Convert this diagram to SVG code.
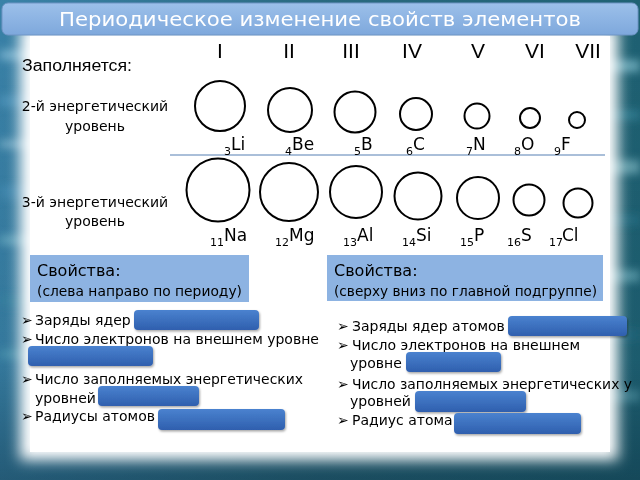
<svg xmlns="http://www.w3.org/2000/svg" width="640" height="480" viewBox="0 0 640 480">
<defs>
<linearGradient id="bg" x1="0" y1="0" x2="1" y2="0">
<stop offset="0" stop-color="#3a82a8"/>
<stop offset="0.5" stop-color="#2a6a80"/>
<stop offset="1" stop-color="#1f6274"/>
</linearGradient>
<linearGradient id="bgv" x1="0" y1="0" x2="0" y2="1">
<stop offset="0" stop-color="#000" stop-opacity="0"/>
<stop offset="0.75" stop-color="#0a2a3a" stop-opacity="0.1"/>
<stop offset="1" stop-color="#0a2a3a" stop-opacity="0.45"/>
</linearGradient>
<linearGradient id="title" x1="0" y1="0" x2="0" y2="1">
<stop offset="0" stop-color="#9cc0ea"/>
<stop offset="1" stop-color="#7ea8dc"/>
</linearGradient>
<linearGradient id="ans" x1="0" y1="0" x2="0" y2="1">
<stop offset="0" stop-color="#4a82cf"/>
<stop offset="1" stop-color="#2f5fae"/>
</linearGradient>
<filter id="blur" x="-10%" y="-10%" width="120%" height="120%"><feGaussianBlur stdDeviation="7"/></filter>
<filter id="blur2" x="-20%" y="-80%" width="140%" height="260%"><feGaussianBlur stdDeviation="4"/></filter>
<filter id="sh" x="-10%" y="-20%" width="120%" height="160%"><feDropShadow dx="1" dy="1.5" stdDeviation="0.8" flood-color="#000" flood-opacity="0.35"/></filter>
<style>
.atom{fill:none;stroke:#000;stroke-width:2}
.sym{font-family:"DejaVu Sans",sans-serif;font-size:17px;fill:#000}
.sub{font-family:"DejaVu Sans",sans-serif;font-size:11px;fill:#000}
.rom{font-family:"Liberation Sans",sans-serif;font-size:21px;fill:#000}
.lbl{font-family:"DejaVu Sans",sans-serif;font-size:14px;fill:#000}
.txt{font-family:"DejaVu Sans",sans-serif;font-size:14px;fill:#000}
.hdr{font-family:"DejaVu Sans",sans-serif;fill:#000}
.box{fill:#8db3e2}
.ans{fill:url(#ans);filter:url(#sh)}
.bul{font-family:"DejaVu Sans",sans-serif;font-size:14px;font-weight:bold;fill:#000}
</style>
</defs>
<g id="background">
<rect x="0" y="0" width="640" height="480" fill="url(#bg)"/>
<g filter="url(#blur2)">
<rect x="0" y="50" width="40" height="10" fill="#9fd0ea" opacity="0.6"/>
<rect x="0" y="95" width="35" height="12" fill="#5aa0c8" opacity="0.6"/>
<rect x="0" y="140" width="40" height="8" fill="#b8e0f0" opacity="0.5"/>
<rect x="0" y="185" width="35" height="14" fill="#4d95be" opacity="0.6"/>
<rect x="0" y="235" width="40" height="10" fill="#8fd0e0" opacity="0.5"/>
<rect x="0" y="295" width="35" height="12" fill="#3d8aa8" opacity="0.6"/>
<rect x="0" y="350" width="40" height="8" fill="#6ab8cc" opacity="0.5"/>
<rect x="600" y="60" width="40" height="12" fill="#9ad6e4" opacity="0.6"/>
<rect x="600" y="110" width="40" height="10" fill="#3b8fa5" opacity="0.6"/>
<rect x="600" y="160" width="40" height="14" fill="#a8e0ea" opacity="0.5"/>
<rect x="600" y="215" width="40" height="10" fill="#2c7c92" opacity="0.6"/>
<rect x="600" y="270" width="40" height="12" fill="#8fd2e0" opacity="0.5"/>
<rect x="600" y="330" width="40" height="10" fill="#2a7088" opacity="0.6"/>
<rect x="600" y="390" width="40" height="12" fill="#6fbccc" opacity="0.5"/>
</g>
<rect x="0" y="0" width="640" height="480" fill="url(#bgv)"/>
<rect x="20" y="26" width="598" height="434" fill="#ffffff" filter="url(#blur)"/>
<rect x="30" y="36" width="580" height="416" fill="#ffffff"/>
</g>
<g id="title">
<rect x="2" y="3" width="636" height="32" rx="6" fill="url(#title)" stroke="#6f94c4" stroke-width="1"/>
<text x="320" y="26" text-anchor="middle" font-family="DejaVu Sans, sans-serif" font-size="20" fill="#ffffff" textLength="522" lengthAdjust="spacingAndGlyphs">Периодическое изменение свойств элементов</text>
</g>
<g id="groups">
<text class="rom" x="220" y="58" text-anchor="middle">I</text>
<text class="rom" x="289" y="58" text-anchor="middle">II</text>
<text class="rom" x="351" y="58" text-anchor="middle">III</text>
<text class="rom" x="412" y="58" text-anchor="middle">IV</text>
<text class="rom" x="478" y="58" text-anchor="middle">V</text>
<text class="rom" x="535" y="58" text-anchor="middle">VI</text>
<text class="rom" x="588" y="58" text-anchor="middle">VII</text>
</g>
<g id="row-labels">
<text x="22" y="71" font-family="Liberation Sans, sans-serif" font-size="16" textLength="110" lengthAdjust="spacingAndGlyphs">Заполняется:</text>
<text class="lbl" x="95" y="111" text-anchor="middle">2-й энергетический</text>
<text class="lbl" x="95" y="131" text-anchor="middle">уровень</text>
<text class="lbl" x="95" y="207" text-anchor="middle">3-й энергетический</text>
<text class="lbl" x="95" y="226" text-anchor="middle">уровень</text>
</g>
<g id="connectors">
<line x1="170" y1="155" x2="605" y2="155" stroke="#8eaacc" stroke-width="1.5"/>
</g>
<g id="Li"><circle class="atom" cx="220" cy="106" r="25"/><text class="sub" x="224" y="155">3</text><text class="sym" x="231" y="150">Li</text></g>
<g id="Be"><circle class="atom" cx="290" cy="110" r="22"/><text class="sub" x="285" y="155">4</text><text class="sym" x="292" y="150">Be</text></g>
<g id="B"><circle class="atom" cx="355" cy="112" r="20.5"/><text class="sub" x="354" y="155">5</text><text class="sym" x="361" y="150">B</text></g>
<g id="C"><circle class="atom" cx="416" cy="114" r="16"/><text class="sub" x="406" y="155">6</text><text class="sym" x="413" y="150">C</text></g>
<g id="N"><circle class="atom" cx="477" cy="116" r="12.5"/><text class="sub" x="466" y="155">7</text><text class="sym" x="473" y="150">N</text></g>
<g id="O"><circle class="atom" cx="530" cy="118" r="10"/><text class="sub" x="514" y="155">8</text><text class="sym" x="521" y="150">O</text></g>
<g id="F"><circle class="atom" cx="577" cy="120" r="8"/><text class="sub" x="554" y="155">9</text><text class="sym" x="561" y="150">F</text></g>
<g id="Na"><circle class="atom" cx="218" cy="190" r="31.5"/><text class="sub" x="210" y="246">11</text><text class="sym" x="224" y="241">Na</text></g>
<g id="Mg"><circle class="atom" cx="289" cy="192" r="29"/><text class="sub" x="275" y="246">12</text><text class="sym" x="289" y="241">Mg</text></g>
<g id="Al"><circle class="atom" cx="356" cy="192" r="26"/><text class="sub" x="343" y="246">13</text><text class="sym" x="357" y="241">Al</text></g>
<g id="Si"><circle class="atom" cx="418" cy="196" r="23.5"/><text class="sub" x="402" y="246">14</text><text class="sym" x="416" y="241">Si</text></g>
<g id="P"><circle class="atom" cx="478" cy="198" r="21"/><text class="sub" x="460" y="246">15</text><text class="sym" x="474" y="241">P</text></g>
<g id="S"><circle class="atom" cx="529" cy="200" r="15.5"/><text class="sub" x="507" y="246">16</text><text class="sym" x="521" y="241">S</text></g>
<g id="Cl"><circle class="atom" cx="578" cy="203" r="14.5"/><text class="sub" x="549" y="246">17</text><text class="sym" x="562" y="241">Cl</text></g>
<g id="props-left">
<rect class="box" x="30" y="255" width="219" height="47"/>
<text class="hdr" x="37" y="276" font-size="16">Свойства:</text>
<text class="hdr" x="37" y="296" font-size="14" textLength="205" lengthAdjust="spacingAndGlyphs">(слева направо по периоду)</text>
<text class="bul" x="21" y="325">➢</text>
<text class="txt" x="35" y="325">Заряды ядер</text>
<rect class="ans" x="134" y="310" width="125" height="20" rx="4"/>
<text class="bul" x="21" y="344">➢</text>
<text class="txt" x="35" y="344" textLength="284" lengthAdjust="spacingAndGlyphs">Число электронов на внешнем уровне</text>
<rect class="ans" x="28" y="346" width="125" height="20" rx="4"/>
<text class="bul" x="21" y="384">➢</text>
<text class="txt" x="35" y="384" textLength="268" lengthAdjust="spacingAndGlyphs">Число заполняемых энергетических</text>
<text class="txt" x="35" y="403">уровней</text>
<rect class="ans" x="98" y="386" width="101" height="20" rx="4"/>
<text class="bul" x="21" y="421">➢</text>
<text class="txt" x="35" y="421">Радиусы атомов</text>
<rect class="ans" x="158" y="409" width="127" height="21" rx="4"/>
</g>
<g id="props-right">
<rect class="box" x="327" y="255" width="276" height="46"/>
<text class="hdr" x="334" y="276" font-size="16">Свойства:</text>
<text class="hdr" x="334" y="296" font-size="14" textLength="263" lengthAdjust="spacingAndGlyphs">(сверху вниз по главной подгруппе)</text>
<text class="bul" x="337" y="331">➢</text>
<text class="txt" x="352" y="331">Заряды ядер атомов</text>
<rect class="ans" x="508" y="316" width="119" height="20" rx="4"/>
<text class="bul" x="337" y="350">➢</text>
<text class="txt" x="352" y="350" textLength="228" lengthAdjust="spacingAndGlyphs">Число электронов на внешнем</text>
<text class="txt" x="350" y="368">уровне</text>
<rect class="ans" x="406" y="352" width="95" height="20" rx="4"/>
<text class="bul" x="337" y="389">➢</text>
<text class="txt" x="352" y="389" textLength="280" lengthAdjust="spacingAndGlyphs">Число заполняемых энергетических у</text>
<text class="txt" x="350" y="406">уровней</text>
<rect class="ans" x="415" y="391" width="111" height="21" rx="4"/>
<text class="bul" x="337" y="425">➢</text>
<text class="txt" x="352" y="425">Радиус атома</text>
<rect class="ans" x="454" y="413" width="127" height="21" rx="4"/>
</g>
</svg>
